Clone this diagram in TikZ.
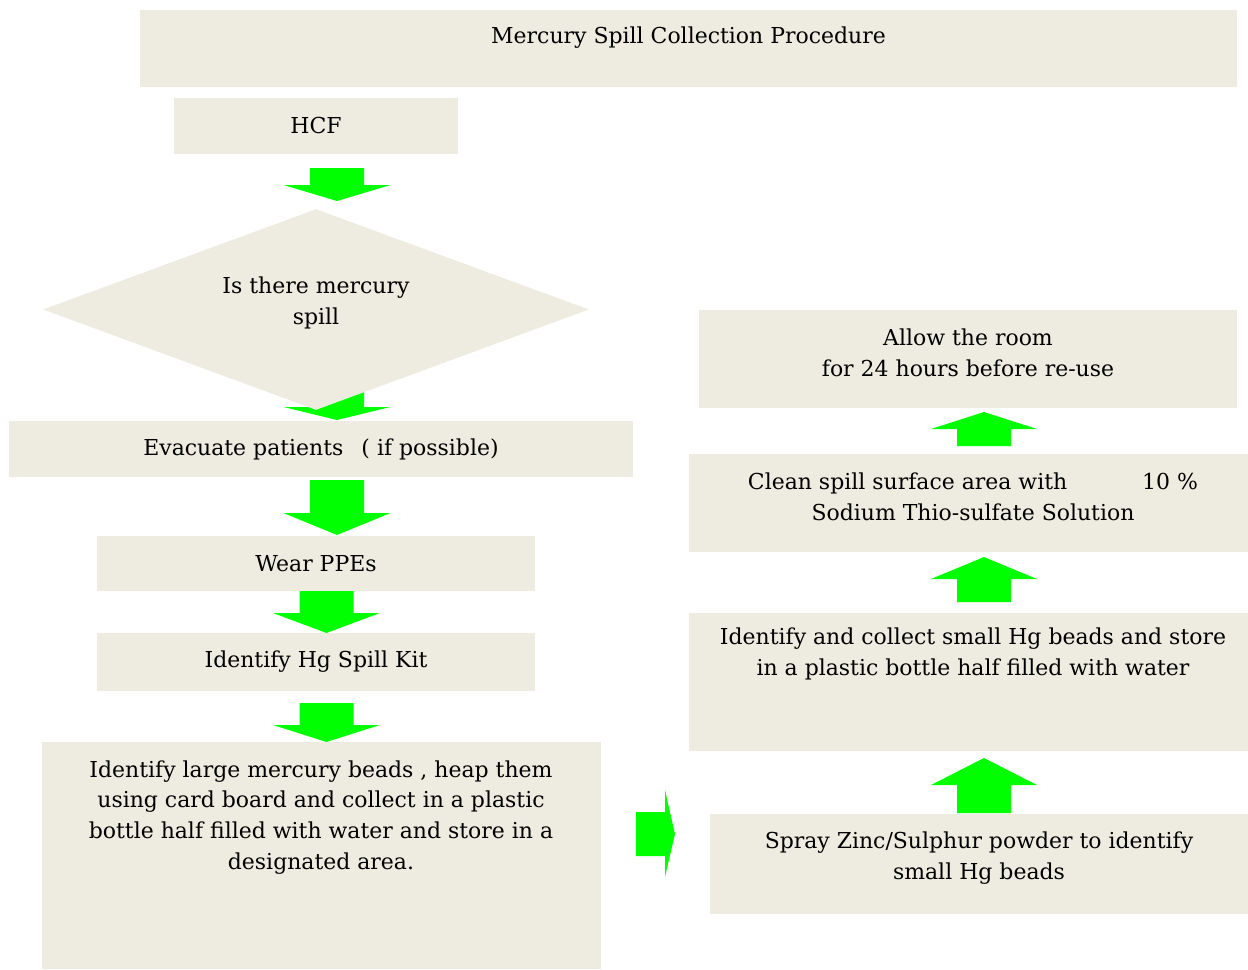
\documentclass[tikz,border=0pt]{standalone}
\usepackage{fontspec}
\setmainfont{DejaVu Serif}
\usetikzlibrary{shapes.geometric}

\definecolor{PaleTan}{RGB}{238, 236, 225}
\definecolor{BrightGreen}{RGB}{0, 255, 0}
\newcommand{\flowfont}{\fontsize{12.5pt}{17.6pt}\selectfont}
% block arrows: #1 = centre x, #2 = tail, #3 = head base, #4 = tip
\newcommand{\downblock}[4]{%
    \fill[BrightGreen] (#1-27,#2) -- (#1+27,#2) -- (#1+27,#3) -- (#1+53.5,#3)
        -- (#1,#4) -- (#1-53.5,#3) -- (#1-27,#3) -- cycle;}
\newcommand{\upblock}[4]{%
    \fill[BrightGreen] (#1-27,#2) -- (#1+27,#2) -- (#1+27,#3) -- (#1+53,#3)
        -- (#1,#4) -- (#1-53,#3) -- (#1-27,#3) -- cycle;}

\begin{document}
\begin{tikzpicture}[
        x=0.02cm, y=-0.02cm,
        box/.style={fill=PaleTan, inner sep=0pt, align=center, font=\flowfont},
        txt/.style={inner sep=0pt, align=center, font=\flowfont},
        decision/.style={diamond, fill=PaleTan, inner sep=0pt, aspect=2.7}
    ]
    \useasboundingbox (0,0) rectangle (1248,970);

    % Title
    \node[box, minimum width=21.94cm, minimum height=1.54cm] (title) at (688.5, 48.5) {};
    \node[txt] (titletxt) at (688.5, 38) {Mercury Spill Collection Procedure};

    % Left column
    \node[box, minimum width=5.68cm, minimum height=1.12cm] (hcf) at (316, 126) {HCF};
    \downblock{337}{168}{185}{201}

    \downblock{337}{390}{407}{420}
    \node[decision, minimum width=10.92cm, minimum height=4.02cm] (spill) at (316, 309.5) {};
    \node[txt] (spilltxt) at (316, 303) {Is there mercury\\spill};

    \node[box, minimum width=12.48cm, minimum height=1.12cm] (evac) at (321, 449)
        {Evacuate patients\hspace{0.36cm}( if possible)};
    \downblock{337}{480}{513}{535}

    \node[box, minimum width=8.76cm, minimum height=1.1cm] (ppe) at (316, 563.5) {Wear PPEs};
    \downblock{326.5}{591}{613}{633}

    \node[box, minimum width=8.76cm, minimum height=1.16cm] (kit) at (316, 662) {Identify Hg Spill Kit};
    \downblock{326.5}{703}{725}{742}

    \node[box, minimum width=11.18cm, minimum height=4.54cm] (large) at (321.5, 855.5) {};
    \node[txt] (largetxt) at (321, 817.5) {Identify large mercury beads , heap them\\
        using card board and collect in a plastic\\
        bottle half filled with water and store in a\\
        designated area.};

    % Right column
    \fill[BrightGreen] (636,812) -- (665,812) -- (665,790) -- (675,834)
        -- (665,877) -- (665,856) -- (636,856) -- cycle;

    \node[box, minimum width=10.76cm, minimum height=2.0cm] (spray) at (979, 864) {};
    \node[txt] (spraytxt) at (979, 858.5) {Spray Zinc/Sulphur powder to identify\\small Hg beads};
    \upblock{984}{813}{785}{758}

    \node[box, minimum width=11.18cm, minimum height=2.76cm] (small) at (968.5, 682) {};
    \node[txt] (smalltxt) at (973, 653.5) {Identify and collect small Hg beads and store\\
        in a plastic bottle half filled with water};
    \upblock{984}{602}{579}{557}

    \node[box, minimum width=11.18cm, minimum height=1.96cm] (clean) at (968.5, 503) {};
    \node[txt] (cleantxt) at (973, 496.5) {Clean spill surface area with\hspace{1.5cm}10 \%\\
        Sodium Thio-sulfate Solution};
    \upblock{984}{446}{429}{412}

    \node[box, minimum width=10.76cm, minimum height=1.96cm] (allow) at (968, 359) {};
    \node[txt] (allowtxt) at (968, 352.5) {Allow the room\\for 24 hours before re-use};
\end{tikzpicture}
\end{document}
